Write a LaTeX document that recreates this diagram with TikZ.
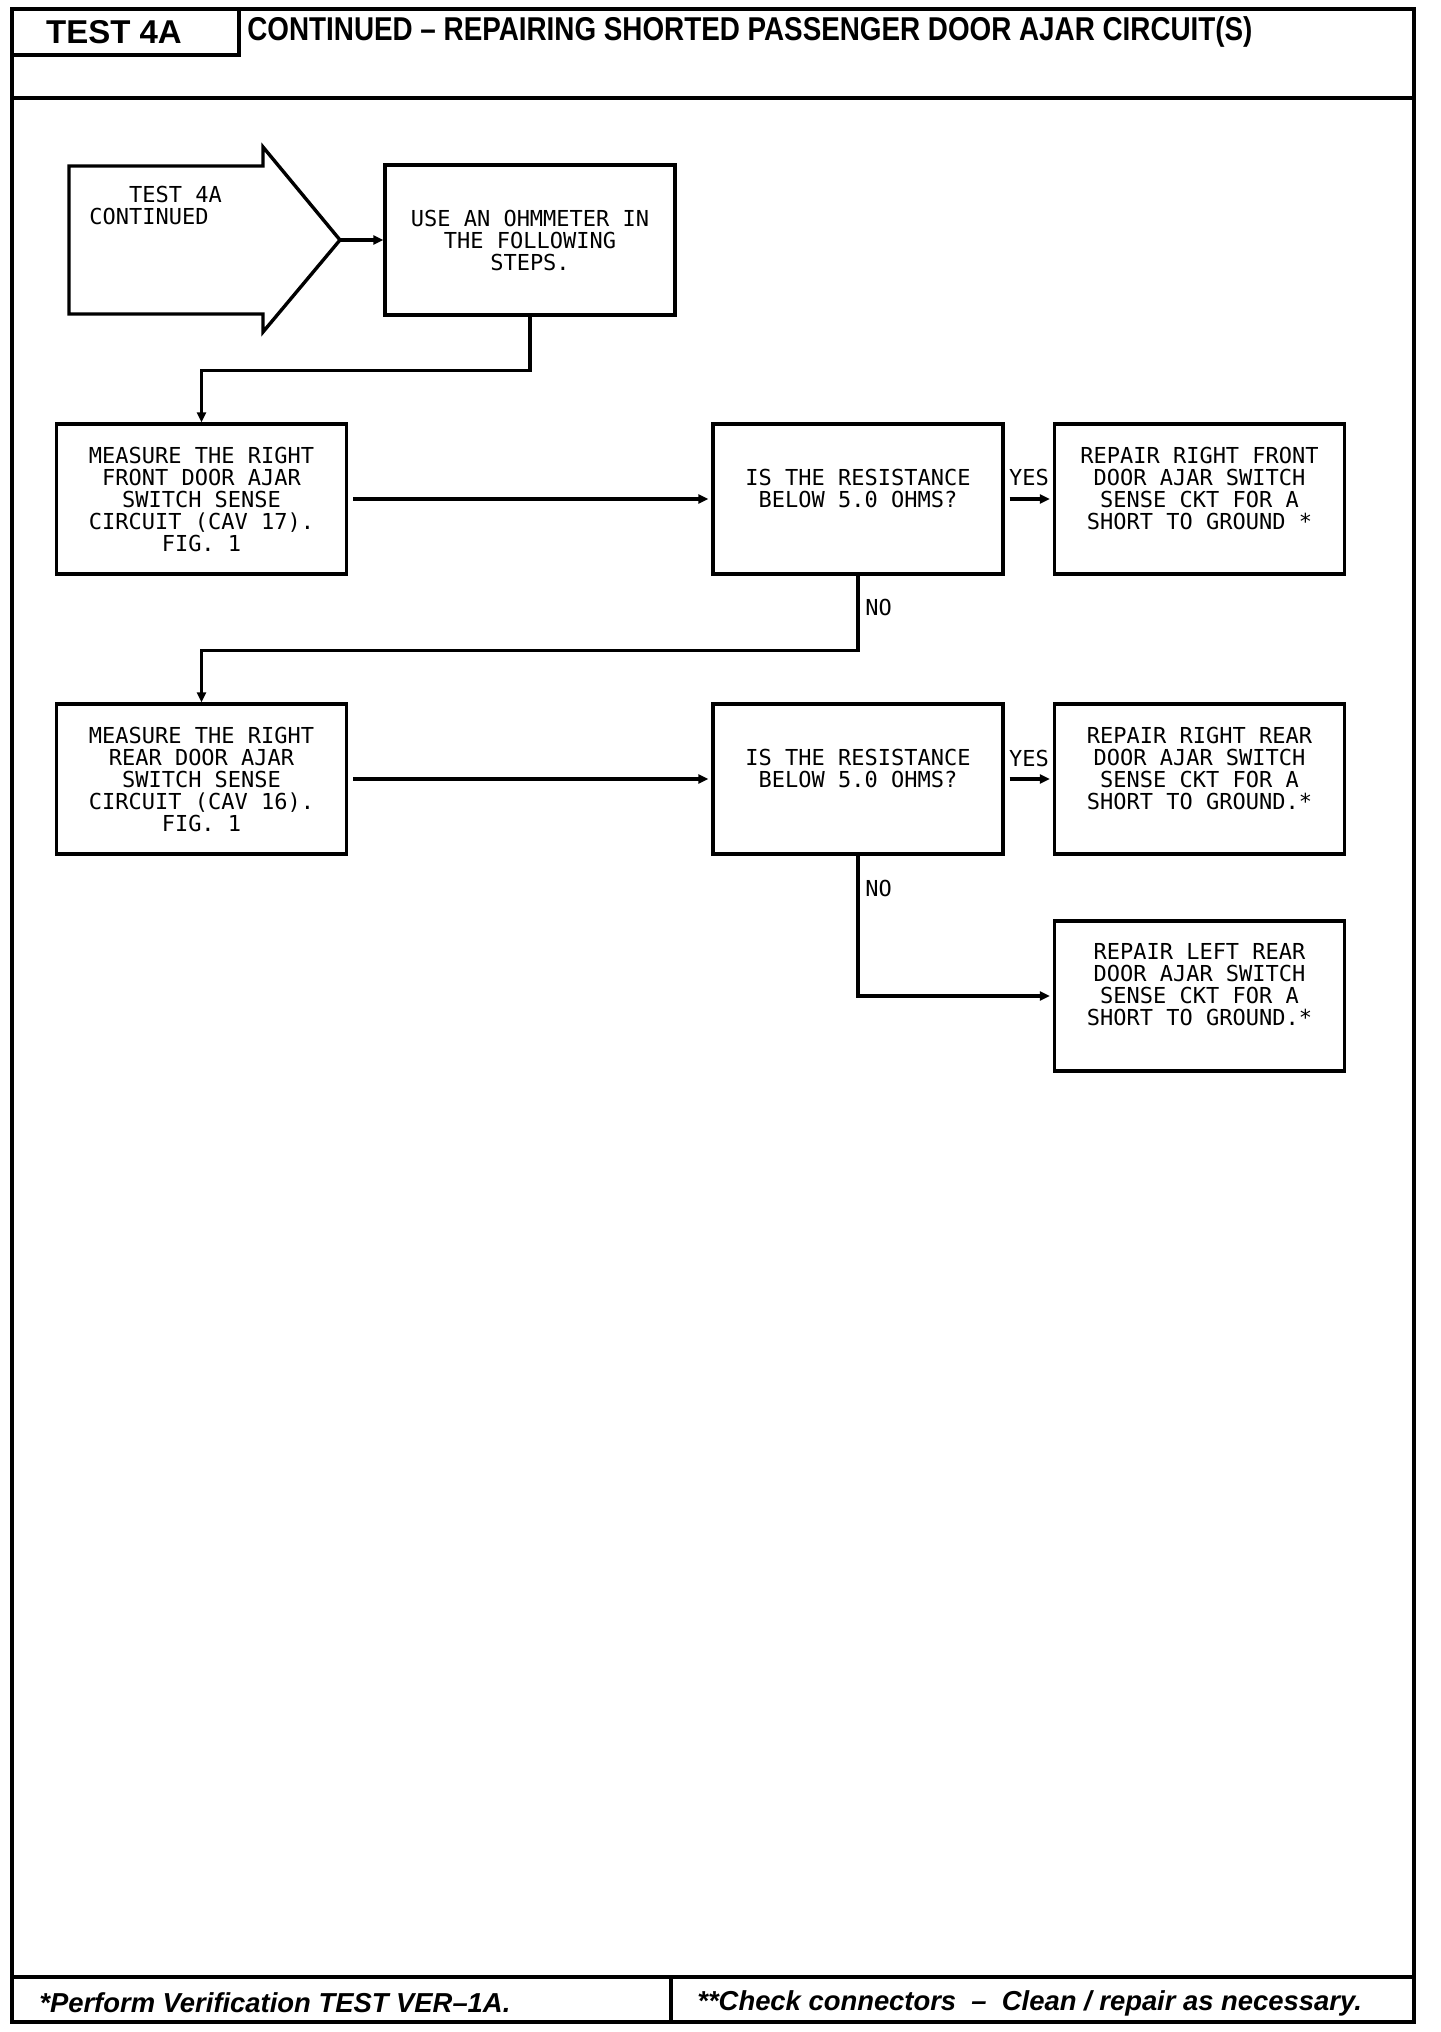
\documentclass[tikz,border=0pt]{standalone}
\usepackage{fontspec}
\setmainfont{Liberation Sans}
\newfontfamily\boxfont{DejaVu Sans Mono}
\usetikzlibrary{arrows.meta}
\begin{document}
\begin{tikzpicture}[x=0.5pt,y=-0.5pt,
  frameline/.style={line width=1.75pt},
  box/.style={draw, line width=1.7pt, minimum width=145pt, minimum height=75pt, inner sep=0pt},
  txt/.style={font=\boxfont\fontsize{11pt}{11pt}\selectfont, align=center, inner sep=0pt},
  conn/.style={line width=1.6pt},
  arr/.style={conn, -{Triangle[length=5pt,width=4.5pt]}},
  hdfont/.style={font=\bfseries\fontsize{16.5pt}{16.5pt}\selectfont, inner sep=0pt},
  ftfont/.style={font=\bfseries\itshape\fontsize{13.7pt}{13.7pt}\selectfont, inner sep=0pt}
]
\useasboundingbox (0,0) rectangle (1440,2032);
% frame
\draw[frameline] (12,9) rectangle (1414,2022);
\draw[frameline] (239,9) -- (239,55) -- (12,55);
\draw[frameline] (12,98) -- (1414,98);
\draw[frameline] (12,1977) -- (1414,1977);
\draw[frameline] (671,1977) -- (671,2022);
% header
\node[hdfont] (hd) at (114,32) {TEST 4A};
\node[hdfont, anchor=west] (title) at (247,32) {\scalebox{0.843}[1]{CONTINUED -- REPAIRING SHORTED PASSENGER DOOR AJAR CIRCUIT(S)}};
% footer
\node[ftfont, anchor=west] (ft1) at (39,2003) {*Perform Verification TEST VER--1A.};
\node[ftfont, anchor=west] (ft2) at (697,2003) {**Check connectors\ \ --\ \ Clean / repair as necessary.};
% start arrow shape
\draw[line width=1.7pt] (69,166) -- (263,166) -- (263,147) -- (340,240) -- (263,332) -- (263,314) -- (69,314) -- cycle;
\coordinate (tip) at (340,240);
\node[txt, align=left, anchor=west] (start) at (89,205) {\phantom{XXX}TEST 4A\\CONTINUED};
% boxes
\node[box] (use) at (530,240) {};
\node[txt] (uset) at (use) {USE AN OHMMETER IN\\THE FOLLOWING\\STEPS.};
\node[box] (m1) at (201.5,499) {};
\node[txt] (m1t) at (m1) {MEASURE THE RIGHT\\FRONT DOOR AJAR\\SWITCH SENSE\\CIRCUIT (CAV 17).\\FIG. 1};
\node[box] (q1) at (858,499) {};
\node[txt] (q1t) at ([yshift=5.5pt]q1.center) {IS THE RESISTANCE\\BELOW 5.0 OHMS?};
\node[box] (r1) at (1199.5,499) {};
\node[txt] (r1t) at ([yshift=5.5pt]r1.center) {REPAIR RIGHT FRONT\\DOOR AJAR SWITCH\\SENSE CKT FOR A\\SHORT TO GROUND *};
\node[box] (m2) at (201.5,779) {};
\node[txt] (m2t) at (m2) {MEASURE THE RIGHT\\REAR DOOR AJAR\\SWITCH SENSE\\CIRCUIT (CAV 16).\\FIG. 1};
\node[box] (q2) at (858,779) {};
\node[txt] (q2t) at ([yshift=5.5pt]q2.center) {IS THE RESISTANCE\\BELOW 5.0 OHMS?};
\node[box] (r2) at (1199.5,779) {};
\node[txt] (r2t) at ([yshift=5.5pt]r2.center) {REPAIR RIGHT REAR\\DOOR AJAR SWITCH\\SENSE CKT FOR A\\SHORT TO GROUND.*};
\node[box] (r3) at (1199.5,996) {};
\node[txt] (r3t) at ([yshift=5.5pt]r3.center) {REPAIR LEFT REAR\\DOOR AJAR SWITCH\\SENSE CKT FOR A\\SHORT TO GROUND.*};
% connectors
\draw[arr] (tip) -- (use.west);
\draw[arr] (use.south) -- ++(0,54) -| (m1.north);
\draw[arr, shorten <=2.5pt, shorten >=1.5pt] (m1.east) -- (q1.west);
\draw[arr, shorten <=2.5pt, shorten >=1.5pt] (q1.east) -- (r1.west);
\node[txt] (yes1) at (1029,477) {YES};
\draw[arr] (q1.south) -- ++(0,75) -| (m2.north);
\node[txt, anchor=west] (no1) at (865,607) {NO};
\draw[arr, shorten <=2.5pt, shorten >=1.5pt] (m2.east) -- (q2.west);
\draw[arr, shorten <=2.5pt, shorten >=1.5pt] (q2.east) -- (r2.west);
\node[txt] (yes2) at (1029,758) {YES};
\draw[arr, shorten >=1.5pt] (q2.south) |- (r3.west);
\node[txt, anchor=west] (no2) at (865,888) {NO};
\end{tikzpicture}
\end{document}
